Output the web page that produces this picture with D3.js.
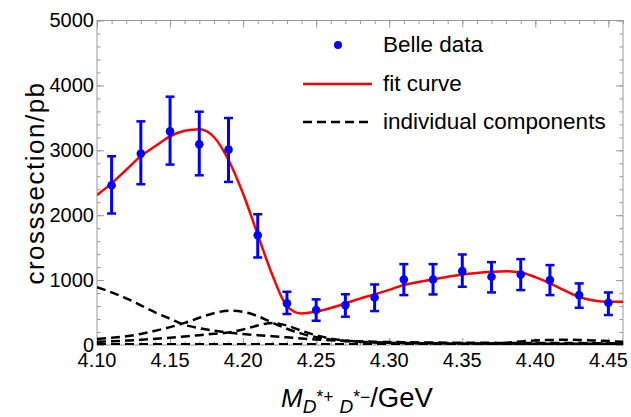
<!DOCTYPE html>
<html>
<head>
<meta charset="utf-8">
<script src="https://cdn.jsdelivr.net/npm/d3@7"></script>
<style>
  body { margin: 0; background: #fff; }
  text { font-family: "Liberation Sans", Arial, sans-serif; fill: #000; }
</style>
</head>
<body>
<div id="chart"></div>
<script>
var svgWidth = 631;
var svgHeight = 417;

// Belle data points
var massPts = [4.11, 4.13, 4.15, 4.17, 4.19, 4.21, 4.23, 4.25, 4.27, 4.29, 4.31, 4.33, 4.35, 4.37, 4.39, 4.41, 4.43, 4.45];
var sigma   = [2462, 2949, 3292, 3092, 3010, 1692, 641, 538, 615, 733, 1010, 1010, 1138, 1051, 1087, 1000, 769, 651];
var sigHi   = [2908, 3446, 3826, 3595, 3497, 2015, 820, 703, 782, 933, 1246, 1246, 1395, 1277, 1323, 1231, 949, 810];
var sigLo   = [2026, 2477, 2780, 2615, 2513, 1349, 477, 374, 436, 523, 769, 779, 897, 810, 846, 769, 574, 462];

// curves, sampled every 10 MeV
var gridM = [4.10, 4.11, 4.12, 4.13, 4.14, 4.15, 4.16, 4.17, 4.18, 4.19, 4.20, 4.21, 4.22, 4.23, 4.24, 4.25, 4.26, 4.27, 4.28,
             4.29, 4.30, 4.31, 4.32, 4.33, 4.34, 4.35, 4.36, 4.37, 4.38, 4.39, 4.40, 4.41, 4.42, 4.43, 4.44, 4.45, 4.46];
var fitCurve = [2310, 2490, 2700, 2910, 3065, 3215, 3300, 3325, 3205, 2850, 2330, 1700, 1080, 600, 485, 515, 570, 640, 715,
                780, 850, 925, 970, 1010, 1050, 1085, 1110, 1128, 1138, 1118, 1045, 950, 840, 740, 685, 665, 665];
var compA = [890, 810, 720, 610, 500, 405, 310, 260, 220, 192, 170, 152, 135, 118, 100, 85, 72, 62, 55,
             50, 46, 43, 40, 38, 36, 35, 34, 33, 32, 31, 30, 30, 29, 29, 28, 28, 27];
var compB = [92, 110, 135, 170, 220, 275, 340, 420, 490, 528, 510, 445, 345, 250, 175, 120, 85, 62, 48,
             40, 35, 32, 30, 28, 27, 26, 25, 25, 24, 24, 23, 23, 22, 22, 22, 21, 21];
var compC = [50, 58, 68, 80, 95, 112, 132, 152, 172, 192, 240, 300, 340, 300, 220, 150, 100, 70, 52,
             42, 35, 30, 28, 26, 25, 24, 23, 22, 22, 21, 21, 20, 20, 20, 19, 19, 19];
var compD = [12, 12, 12, 12, 12, 12, 12, 12, 12, 12, 12, 12, 12, 12, 12, 12, 12, 12, 12,
             12, 12, 12, 12, 12, 12, 13, 15, 20, 35, 55, 70, 77, 80, 78, 70, 60, 50];
var compE = [2, 2, 2, 2, 2, 2, 2, 2, 2, 2, 2, 2, 2, 2, 2, 2, 2, 2, 2,
             2, 2, 2, 2, 2, 2, 2, 2, 2, 2, 2, 2, 2, 2, 2, 2, 2, 2];

var xTicks = [4.10, 4.15, 4.20, 4.25, 4.30, 4.35, 4.40, 4.45];
var yTicks = [0, 1000, 2000, 3000, 4000, 5000];

var plotLeft = 97, plotRight = 623, plotTop = 20.5, plotBottom = 345;
var frameColor = "#999";

var svg = d3.select("#chart")
  .append("svg")
  .attr("width", svgWidth)
  .attr("height", svgHeight);

var xScale = d3.scaleLinear().domain([4.10, 4.46]).range([plotLeft, plotRight]);
var yScale = d3.scaleLinear().domain([0, 5000]).range([plotBottom, plotTop]);

svg.append("clipPath").attr("id", "plotClip")
  .append("rect")
  .attr("x", plotLeft).attr("y", plotTop - 2)
  .attr("width", plotRight - plotLeft).attr("height", plotBottom - plotTop + 2);

// frame with inward ticks on all four sides
var xMinor = d3.range(0, 37).map(i => 4.10 + i * 0.01);
var yMinor = d3.range(0, 26).map(i => i * 200);

function tickAxis(axisFn, scale, major, minor, translate) {
  var gMinor = svg.append("g").attr("transform", translate)
    .call(axisFn(scale).tickValues(minor).tickSize(-3.5).tickFormat(""));
  var gMajor = svg.append("g").attr("transform", translate)
    .call(axisFn(scale).tickValues(major).tickSize(-7).tickFormat(""));
  [gMinor, gMajor].forEach(function(g) {
    g.select(".domain").remove();
    g.selectAll("line").attr("stroke", frameColor).attr("stroke-width", 1);
  });
}
tickAxis(d3.axisBottom, xScale, xTicks, xMinor, `translate(0,${plotBottom})`);
tickAxis(d3.axisTop, xScale, xTicks, xMinor, `translate(0,${plotTop})`);
tickAxis(d3.axisLeft, yScale, yTicks, yMinor, `translate(${plotLeft},0)`);
tickAxis(d3.axisRight, yScale, yTicks, yMinor, `translate(${plotRight},0)`);

svg.append("rect")
  .attr("x", plotLeft).attr("y", plotTop)
  .attr("width", plotRight - plotLeft).attr("height", plotBottom - plotTop)
  .attr("fill", "none")
  .attr("stroke", frameColor)
  .attr("stroke-width", 1);

// tick labels
svg.selectAll(".xlab")
  .data(xTicks)
  .enter()
  .append("text")
  .attr("class", "xlab")
  .attr("x", d => xScale(d))
  .attr("y", 367)
  .attr("text-anchor", "middle")
  .attr("font-size", 20)
  .text(d => d3.format(".2f")(d));

svg.selectAll(".ylab")
  .data(yTicks)
  .enter()
  .append("text")
  .attr("class", "ylab")
  .attr("x", 94)
  .attr("y", d => yScale(d) + 6.5)
  .attr("text-anchor", "end")
  .attr("font-size", 20)
  .text(d => d);

// axis titles
svg.append("text")
  .attr("transform", "translate(44,183) rotate(-90)")
  .attr("text-anchor", "middle")
  .attr("font-size", 26)
  .attr("letter-spacing", 1.5)
  .text("crosssection/pb");

var xTitle = svg.append("text")
  .attr("x", 281)
  .attr("y", 407)
  .attr("font-size", 26);
xTitle.append("tspan").attr("font-style", "italic").text("M");
xTitle.append("tspan").attr("font-style", "italic").attr("font-size", 19).attr("dy", 6).text("D");
xTitle.append("tspan").attr("font-size", 17.5).attr("dy", -10).text("*+");
xTitle.append("tspan").attr("font-style", "italic").attr("font-size", 19).attr("dy", 10).attr("dx", 6).text("D");
xTitle.append("tspan").attr("font-size", 17.5).attr("dy", -10).text("*\u2212");
xTitle.append("tspan").attr("font-size", 27.5).attr("dy", 4).text("/GeV");

// curves
var plot = svg.append("g").attr("clip-path", "url(#plotClip)");

var line = d3.line()
  .x(d => xScale(d[0]))
  .y(d => yScale(d[1]))
  .curve(d3.curveMonotoneX);

[compE, compD, compC, compB, compA].forEach(function(comp) {
  plot.append("path")
    .datum(gridM.map((m, i) => [m, comp[i]]))
    .attr("d", line)
    .attr("fill", "none")
    .attr("stroke", "#000")
    .attr("stroke-width", 2.5)
    .attr("stroke-dasharray", "9,5");
});

plot.append("path")
  .datum(gridM.map((m, i) => [m, fitCurve[i]]))
  .attr("d", line)
  .attr("fill", "none")
  .attr("stroke", "#ff0000")
  .attr("stroke-width", 2.5);

// data with error bars
var blue = "#0000ff";
var pts = massPts.map((m, i) => ({m: m, y: sigma[i], hi: sigHi[i], lo: sigLo[i]}));

var bars = svg.append("g").selectAll("g")
  .data(pts)
  .enter()
  .append("g");

bars.append("line")
  .attr("x1", d => xScale(d.m)).attr("x2", d => xScale(d.m))
  .attr("y1", d => yScale(d.lo)).attr("y2", d => yScale(d.hi))
  .attr("stroke", blue).attr("stroke-width", 3);
bars.append("line")
  .attr("x1", d => xScale(d.m) - 4.5).attr("x2", d => xScale(d.m) + 4.5)
  .attr("y1", d => yScale(d.hi)).attr("y2", d => yScale(d.hi))
  .attr("stroke", blue).attr("stroke-width", 2.5);
bars.append("line")
  .attr("x1", d => xScale(d.m) - 4.5).attr("x2", d => xScale(d.m) + 4.5)
  .attr("y1", d => yScale(d.lo)).attr("y2", d => yScale(d.lo))
  .attr("stroke", blue).attr("stroke-width", 2.5);
bars.append("circle")
  .attr("cx", d => xScale(d.m))
  .attr("cy", d => yScale(d.y))
  .attr("r", 4.3)
  .attr("fill", blue);

// legend
var legend = svg.append("g");
legend.append("circle").attr("cx", 338).attr("cy", 45).attr("r", 4).attr("fill", blue);
legend.append("line").attr("x1", 303).attr("x2", 372).attr("y1", 84).attr("y2", 84)
  .attr("stroke", "#ff0000").attr("stroke-width", 2.5);
legend.append("line").attr("x1", 303).attr("x2", 372).attr("y1", 122).attr("y2", 122)
  .attr("stroke", "#000").attr("stroke-width", 2.5).attr("stroke-dasharray", "9,5");

var legendText = ["Belle data", "fit curve", "individual components"];
legend.selectAll("text")
  .data(legendText)
  .enter()
  .append("text")
  .attr("x", 383)
  .attr("y", (d, i) => [52, 91, 129][i])
  .attr("font-size", 22.5)
  .text(d => d);
</script>
</body>
</html>
